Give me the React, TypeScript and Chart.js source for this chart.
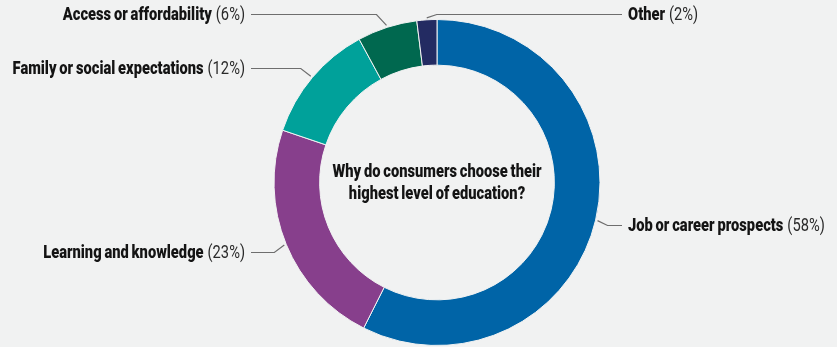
import React, { useEffect, useRef } from "react";
import { Chart, registerables } from "chart.js";

Chart.register(...registerables);

// ---- data ----
const categories = [
  "Job or career prospects",
  "Learning and knowledge",
  "Family or social expectations",
  "Access or affordability",
  "Other",
];
const shares = [58, 23, 12, 6, 2];
const percentLabels = ["(58%)", "(23%)", "(12%)", "(6%)", "(2%)"];
const sliceColors = ["#0064a7", "#873f8c", "#00a19a", "#00684f", "#232b62"];
const centerTitle = ["Why do consumers choose their", "highest level of education?"];

// ---- label layout (not data) ----
const labelSide = [1, -1, -1, -1, 1]; // 1 = right, -1 = left
const labelY = [225, 252, 68, 14, 14];

const BG = "#f1f2f2";
const FONT = "Roboto, 'Noto Sans', sans-serif";
const SIZE = 17.5;

const labelPlugin = {
  id: "leaderLabels",
  afterDraw(chart: any) {
    const ctx = chart.ctx as CanvasRenderingContext2D;
    const meta = chart.getDatasetMeta(0);
    const arcs = meta.data;
    if (!arcs.length) return;
    const c0 = arcs[0].getProps(["x", "y", "outerRadius"], true);
    const cx = c0.x;
    const cy = c0.y;

    ctx.save();
    const bold = `900 ${SIZE}px ${FONT}`;
    const reg = `${SIZE}px ${FONT}`;
    (ctx as any).wordSpacing = "-1px";
    // condensed look: horizontal squeeze factor
    ctx.font = bold;
    const sx = 191 / ctx.measureText("Family or social expectations").width;
    const capHalf = SIZE * 0.711 / 2;

    const drawText = (text: string, x: number, y: number, font: string, color: string) => {
      ctx.save();
      ctx.font = font;
      ctx.fillStyle = color;
      ctx.textAlign = "left";
      ctx.textBaseline = "alphabetic";
      ctx.translate(x, y + capHalf);
      ctx.scale(sx, 1);
      ctx.fillText(text, 0, 0);
      ctx.restore();
    };
    const width = (text: string, font: string) => {
      ctx.font = font;
      return ctx.measureText(text).width * sx;
    };

    // center title
    centerTitle.forEach((line, k) => {
      const w = width(line, bold);
      drawText(line, cx - w / 2, cy - 12 + k * 22, bold, "#141414");
    });

    arcs.forEach((arc: any, i: number) => {
      const p = arc.getProps(["x", "y", "startAngle", "endAngle", "outerRadius"], true);
      const mid = (p.startAngle + p.endAngle) / 2;
      const r = p.outerRadius + 2;
      const ax = p.x + Math.cos(mid) * r;
      const ay = p.y + Math.sin(mid) * r;
      const side = labelSide[i];
      const ty = labelY[i];
      const ex = ax + side * 10;
      const lineEnd = side > 0 ? cx + 185 : cx - 186;
      const textX = side > 0 ? cx + 191 : cx - 192;

      ctx.strokeStyle = "#6e6e6e";
      ctx.lineWidth = 1.2;
      ctx.beginPath();
      ctx.moveTo(ax, ay);
      ctx.lineTo(ex, ty + 0.5);
      ctx.lineTo(lineEnd, ty + 0.5);
      ctx.stroke();

      const name = categories[i];
      const pct = percentLabels[i];
      const nameW = width(name, bold);
      const gap = 4;
      const pctW = width(pct, reg);
      const startX = side > 0 ? textX : textX - nameW - gap - pctW;
      drawText(name, startX, ty, bold, "#141414");
      drawText(pct, startX + nameW + gap, ty, reg, "#2a2a2a");
    });
    ctx.restore();
  },
};

export default function App() {
  const ref = useRef<HTMLCanvasElement | null>(null);

  useEffect(() => {
    document.body.style.margin = "0";
    if (!ref.current) return;
    const chart = new Chart(ref.current, {
      type: "doughnut",
      data: {
        labels: categories,
        datasets: [
          {
            data: shares,
            backgroundColor: sliceColors,
            borderColor: BG,
            borderWidth: 1,
            hoverOffset: 0,
          },
        ],
      },
      options: {
        responsive: false,
        animation: false,
        cutout: "72%",
        layout: { padding: { top: 19, bottom: 1, left: 137, right: 100 } },
        plugins: {
          legend: { display: false },
          tooltip: { enabled: false },
        },
      },
      plugins: [labelPlugin],
    });
    return () => chart.destroy();
  }, []);

  return (
    <div style={{ width: 837, height: 347, background: BG }}>
      <canvas ref={ref} width={837} height={347} style={{ display: "block" }} />
    </div>
  );
}
